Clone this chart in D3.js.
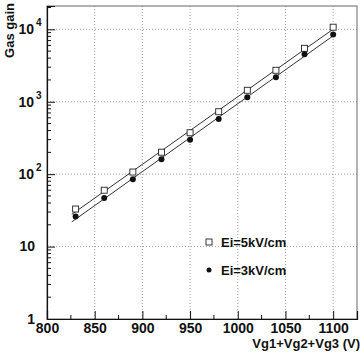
<!DOCTYPE html>
<html>
<head>
<meta charset="utf-8">
<script src="https://cdn.jsdelivr.net/npm/d3@7"></script>
<style>
  body { margin: 0; background: #fff; }
  svg { display: block; font-family: "Liberation Sans", Arial, sans-serif; font-weight: bold; }
</style>
</head>
<body>
<svg id="chart" width="362" height="353"></svg>
<script>
const voltages = [830, 860, 890, 920, 950, 980, 1010, 1040, 1070, 1100];
const gain5kV = [33, 60, 107, 201, 373, 728, 1440, 2720, 5470, 10700];
const gain3kV = [26, 47, 85, 161, 299, 580, 1150, 2180, 4520, 8500];
const seriesNames = ["Ei=5kV/cm", "Ei=3kV/cm"];
const xTicks = [800, 850, 900, 950, 1000, 1050, 1100];
const yTicks = [1, 10, 100, 1000, 10000];
const fitRange = [826, 1102];

const width = 362, height = 353;
const margin = { top: 6, right: 5, bottom: 34, left: 47 };

const svg = d3.select("#chart");

const x = d3.scaleLinear().domain([800, 1125]).range([margin.left, width - margin.right]);
const y = d3.scaleLog().domain([1, 21000]).range([height - margin.bottom, margin.top]);

// grid
const grid = svg.append("g")
  .attr("stroke", "#888")
  .attr("stroke-width", 0.8)
  .attr("stroke-dasharray", "1,2");

grid.selectAll("line.gx")
  .data(xTicks.slice(1))
  .enter()
  .append("line")
  .attr("x1", (d) => x(d))
  .attr("x2", (d) => x(d))
  .attr("y1", y.range()[0])
  .attr("y2", y.range()[1]);

grid.selectAll("line.gy")
  .data(yTicks.slice(1))
  .enter()
  .append("line")
  .attr("x1", x.range()[0])
  .attr("x2", x.range()[1])
  .attr("y1", (d) => y(d))
  .attr("y2", (d) => y(d));

// frame
svg.append("rect")
  .attr("x", x.range()[0])
  .attr("y", y.range()[1])
  .attr("width", x.range()[1] - x.range()[0])
  .attr("height", y.range()[0] - y.range()[1])
  .attr("fill", "none")
  .attr("stroke", "#666")
  .attr("stroke-width", 1);

// x axis
const xMinor = d3.range(800, 1125, 25).filter((d) => d % 50 !== 0);
const xAxis = svg.append("g")
  .attr("transform", `translate(0,${y.range()[0]})`)
  .call(d3.axisBottom(x).tickValues(xTicks).tickSize(-8).tickPadding(4).tickFormat(d3.format("d")));
xAxis.select(".domain").attr("stroke", "#111").attr("stroke-width", 1.2);
xAxis.selectAll(".tick line").attr("stroke", "#111");
xAxis.selectAll("text").attr("font-size", 14).attr("font-family", null).attr("fill", "#111");
xAxis.selectAll("line.minor")
  .data(xMinor)
  .enter()
  .append("line")
  .attr("class", "minor")
  .attr("x1", (d) => x(d))
  .attr("x2", (d) => x(d))
  .attr("y1", 0)
  .attr("y2", -4)
  .attr("stroke", "#111");

// y axis
const yMinor = [];
yTicks.forEach((t) => d3.range(2, 10).forEach((m) => { if (t * m < y.domain()[1]) yMinor.push(t * m); }));
const yAxis = svg.append("g")
  .attr("transform", `translate(${x.range()[0]},0)`)
  .call(d3.axisLeft(y).tickValues(yTicks).tickSize(-8).tickFormat(""));
yAxis.select(".domain").attr("stroke", "#111").attr("stroke-width", 1.2);
yAxis.selectAll(".tick line").attr("stroke", "#111");
yAxis.selectAll("line.minor")
  .data(yMinor)
  .enter()
  .append("line")
  .attr("class", "minor")
  .attr("x1", 0)
  .attr("x2", 4)
  .attr("y1", (d) => y(d))
  .attr("y2", (d) => y(d))
  .attr("stroke", "#111");

const yLabels = svg.append("g").attr("fill", "#111");
yTicks.forEach((t) => {
  const p = Math.round(Math.log10(t));
  if (p < 2) {
    yLabels.append("text")
      .attr("x", 35)
      .attr("y", y(t))
      .attr("dy", "0.35em")
      .attr("text-anchor", "end")
      .attr("font-size", 14)
      .text(String(t));
  } else {
    yLabels.append("text")
      .attr("x", 34)
      .attr("y", y(t))
      .attr("dy", "0.35em")
      .attr("text-anchor", "end")
      .attr("font-size", 14)
      .text("10");
    yLabels.append("text")
      .attr("x", 36)
      .attr("y", y(t) - 3)
      .attr("font-size", 10)
      .text(String(p));
  }
});

// axis titles
svg.append("text")
  .attr("transform", "translate(14,3) rotate(-90)")
  .attr("text-anchor", "end")
  .attr("font-size", 13)
  .attr("fill", "#111")
  .text("Gas gain");

svg.append("text")
  .attr("x", 360)
  .attr("y", 348)
  .attr("text-anchor", "end")
  .attr("font-size", 13)
  .attr("fill", "#111")
  .text("Vg1+Vg2+Vg3 (V)");

// exponential fit lines
function fitLog(xs, ys) {
  const ly = ys.map((v) => Math.log10(v));
  const mx = d3.mean(xs), my = d3.mean(ly);
  const b = d3.sum(xs, (v, i) => (v - mx) * (ly[i] - my)) / d3.sum(xs, (v) => (v - mx) * (v - mx));
  const a = my - b * mx;
  return (v) => Math.pow(10, a + b * v);
}

const series = [gain5kV, gain3kV];
const line = d3.line().x((d) => x(d[0])).y((d) => y(d[1]));
series.forEach((vals) => {
  const f = fitLog(voltages, vals);
  svg.append("path")
    .datum(fitRange.map((v) => [v, f(v)]))
    .attr("d", line)
    .attr("fill", "none")
    .attr("stroke", "#333")
    .attr("stroke-width", 1);
});

// markers
svg.append("g")
  .selectAll("rect")
  .data(voltages.map((v, i) => [v, gain5kV[i]]))
  .enter()
  .append("rect")
  .attr("x", (d) => x(d[0]) - 3)
  .attr("y", (d) => y(d[1]) - 3)
  .attr("width", 6)
  .attr("height", 6)
  .attr("fill", "#fff")
  .attr("stroke", "#222")
  .attr("stroke-width", 0.9);

svg.append("g")
  .selectAll("circle")
  .data(voltages.map((v, i) => [v, gain3kV[i]]))
  .enter()
  .append("circle")
  .attr("cx", (d) => x(d[0]))
  .attr("cy", (d) => y(d[1]))
  .attr("r", 3)
  .attr("fill", "#111");

// legend
const legend = svg.append("g").attr("transform", "translate(209,242)");
legend.append("rect")
  .attr("x", -3).attr("y", -3).attr("width", 6).attr("height", 6)
  .attr("fill", "#fff").attr("stroke", "#222").attr("stroke-width", 0.9);
legend.append("circle").attr("cx", 0).attr("cy", 28).attr("r", 2.5).attr("fill", "#111");
legend.selectAll("text")
  .data(seriesNames)
  .enter()
  .append("text")
  .attr("x", 12)
  .attr("y", (d, i) => i * 28)
  .attr("dy", "0.35em")
  .attr("font-size", 13)
  .attr("fill", "#111")
  .text((d) => d);
</script>
</body>
</html>
